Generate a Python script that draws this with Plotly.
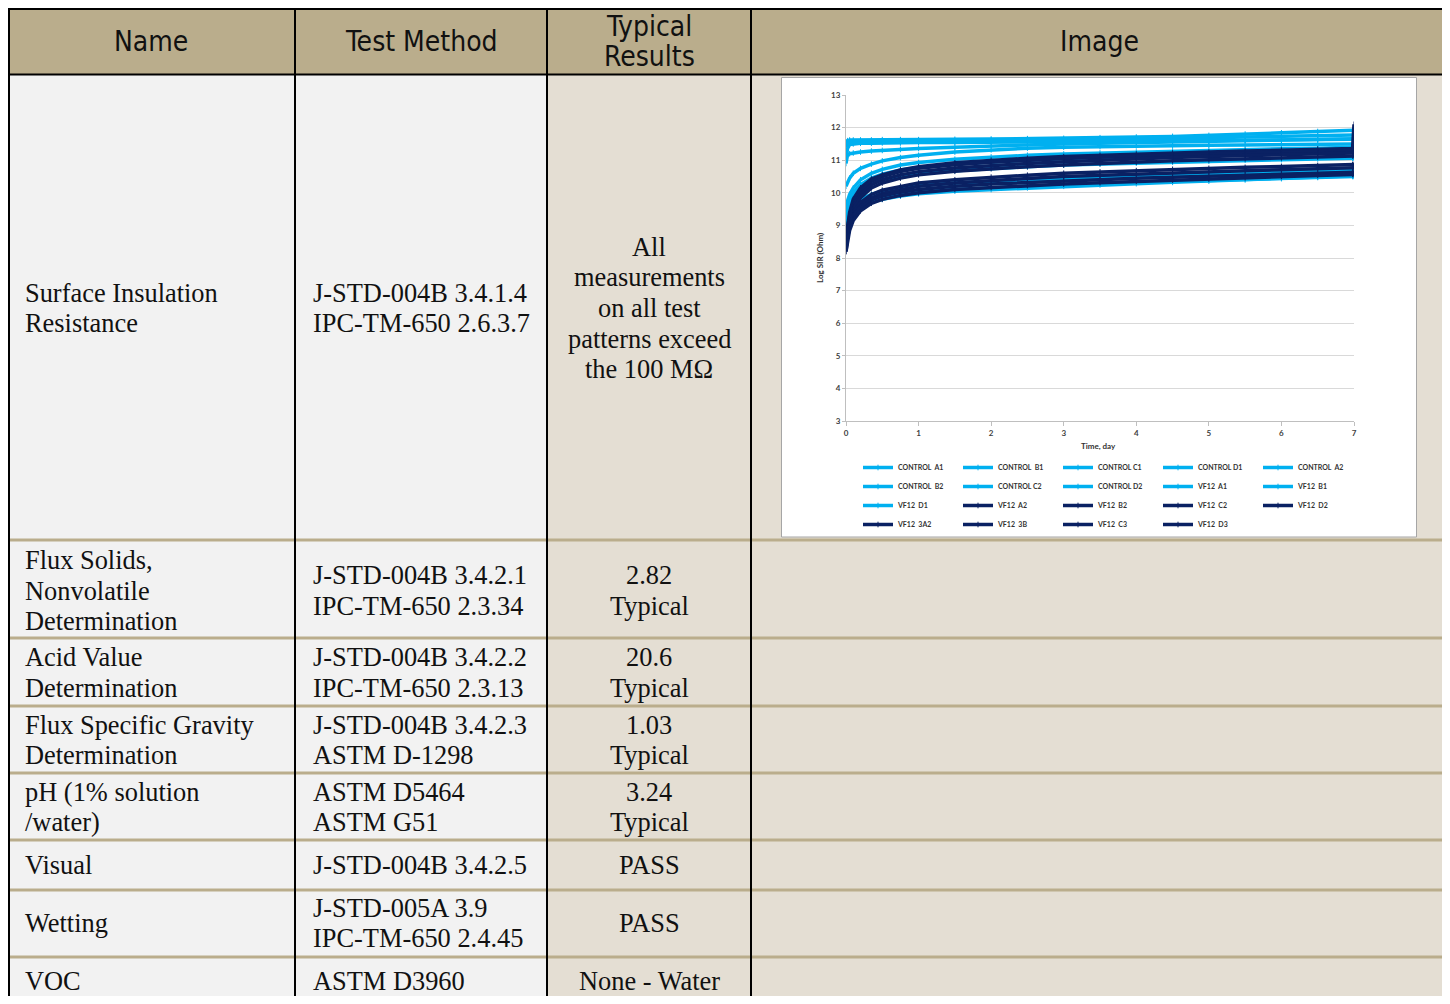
import plotly.graph_objects as go

# The page body has an 8px margin, so the figure is laid out in reference-screen
# pixels shifted by 8px.
OFF = 8
FIG_W, FIG_H = 1440, 988
PLOT_L, PLOT_R, PLOT_T, PLOT_B = 846, 1354, 95, 421   # plot area in reference pixels


def px(x):
    return (x - PLOT_L) / (PLOT_R - PLOT_L)


def py(y):
    return (PLOT_B - y) / (PLOT_B - PLOT_T)


# ---------------- chart data ----------------
time_day = [0, 0.02, 0.05, 0.1, 0.2, 0.35, 0.5, 0.75, 1, 1.5, 2, 2.5, 3, 3.5, 4, 4.5, 5, 5.5, 6, 6.5, 6.98, 7]

series_names = ["CONTROL  A1", "CONTROL  B1", "CONTROL C1", "CONTROL D1", "CONTROL  A2",
                "CONTROL  B2", "CONTROL C2", "CONTROL D2", "VF12  A1", "VF12  B1",
                "VF12  D1", "VF12  A2", "VF12  B2", "VF12  C2", "VF12  D2",
                "VF12  3A2", "VF12  3B", "VF12  C3", "VF12  D3"]

control_a1 = [11.5, 11.6, 11.62, 11.62, 11.62, 11.62, 11.63, 11.63, 11.63, 11.64, 11.65, 11.66, 11.67, 11.69, 11.71, 11.73, 11.76, 11.8, 11.84, 11.88, 11.92, 11.92]
control_b1 = [11.4, 11.5, 11.57, 11.57, 11.58, 11.58, 11.58, 11.59, 11.59, 11.6, 11.61, 11.62, 11.63, 11.64, 11.65, 11.67, 11.69, 11.71, 11.73, 11.75, 11.77, 11.77]
control_c1 = [11.0, 11.35, 11.48, 11.5, 11.52, 11.52, 11.53, 11.53, 11.54, 11.54, 11.55, 11.55, 11.56, 11.57, 11.58, 11.59, 11.6, 11.61, 11.62, 11.63, 11.64, 11.64]
control_d1 = [10.9, 11.15, 11.2, 11.22, 11.25, 11.28, 11.3, 11.33, 11.36, 11.4, 11.44, 11.47, 11.5, 11.52, 11.54, 11.56, 11.58, 11.6, 11.62, 11.64, 11.66, 11.66]
control_a2 = [10.2, 10.3, 10.45, 10.6, 10.75, 10.88, 10.98, 11.08, 11.15, 11.25, 11.32, 11.37, 11.4, 11.42, 11.44, 11.45, 11.46, 11.47, 11.48, 11.49, 11.5, 11.5]
control_b2 = [9.2, 9.3, 9.4, 9.5, 9.62, 9.72, 9.8, 9.9, 9.97, 10.05, 10.1, 10.15, 10.2, 10.24, 10.28, 10.32, 10.36, 10.4, 10.44, 10.48, 10.52, 10.52]
control_c2 = [9.6, 9.75, 9.95, 10.15, 10.4, 10.6, 10.72, 10.85, 10.93, 11.03, 11.1, 11.15, 11.19, 11.22, 11.25, 11.28, 11.3, 11.33, 11.35, 11.37, 11.4, 11.4]
control_d2 = [9.3, 9.5, 9.7, 9.9, 10.1, 10.3, 10.4, 10.5, 10.58, 10.68, 10.75, 10.8, 10.85, 10.88, 10.91, 10.94, 10.97, 11.0, 11.02, 11.04, 11.06, 11.06]
vf12_a1 = [9.0, 9.2, 9.4, 9.6, 9.8, 9.95, 10.05, 10.15, 10.22, 10.3, 10.36, 10.4, 10.44, 10.48, 10.52, 10.55, 10.58, 10.61, 10.64, 10.67, 10.7, 10.7]
vf12_b1 = [9.4, 9.6, 9.8, 10.0, 10.25, 10.45, 10.57, 10.7, 10.78, 10.88, 10.95, 11.0, 11.05, 11.08, 11.12, 11.15, 11.18, 11.21, 11.24, 11.27, 11.3, 11.3]
vf12_d1 = [9.0, 9.15, 9.3, 9.45, 9.6, 9.75, 9.85, 9.95, 10.02, 10.1, 10.16, 10.21, 10.25, 10.29, 10.32, 10.35, 10.38, 10.41, 10.44, 10.47, 10.5, 10.5]
vf12_a2 = [8.6, 9.0, 9.4, 9.8, 10.15, 10.42, 10.55, 10.7, 10.8, 10.92, 11.0, 11.06, 11.11, 11.15, 11.19, 11.22, 11.25, 11.28, 11.31, 11.34, 11.36, 12.1]
vf12_b2 = [8.4, 8.9, 9.3, 9.7, 10.05, 10.35, 10.5, 10.65, 10.75, 10.86, 10.94, 11.0, 11.05, 11.09, 11.13, 11.16, 11.19, 11.22, 11.25, 11.28, 11.3, 11.3]
vf12_c2 = [8.5, 8.85, 9.2, 9.6, 9.95, 10.25, 10.4, 10.55, 10.65, 10.76, 10.84, 10.9, 10.95, 11.0, 11.04, 11.08, 11.11, 11.14, 11.17, 11.2, 11.22, 11.22]
vf12_d2 = [8.3, 8.7, 9.1, 9.5, 9.85, 10.15, 10.3, 10.45, 10.55, 10.66, 10.74, 10.8, 10.85, 10.9, 10.94, 10.98, 11.01, 11.04, 11.07, 11.1, 11.13, 11.13]
vf12_3a2 = [8.4, 8.8, 9.1, 9.4, 9.7, 9.95, 10.08, 10.2, 10.3, 10.4, 10.48, 10.54, 10.6, 10.64, 10.68, 10.72, 10.75, 10.78, 10.81, 10.84, 10.87, 10.87]
vf12_3b = [8.2, 8.6, 8.95, 9.3, 9.6, 9.85, 9.98, 10.1, 10.2, 10.3, 10.38, 10.44, 10.5, 10.54, 10.58, 10.62, 10.65, 10.68, 10.71, 10.74, 10.77, 10.77]
vf12_c3 = [8.3, 8.7, 9.0, 9.3, 9.55, 9.78, 9.9, 10.02, 10.1, 10.2, 10.27, 10.32, 10.37, 10.41, 10.45, 10.48, 10.51, 10.54, 10.57, 10.6, 10.63, 10.63]
vf12_d3 = [8.2, 8.5, 8.85, 9.15, 9.45, 9.68, 9.8, 9.92, 10.0, 10.1, 10.16, 10.22, 10.27, 10.31, 10.35, 10.39, 10.42, 10.46, 10.5, 10.53, 10.56, 10.56]

series_values = [control_a1, control_b1, control_c1, control_d1, control_a2,
                 control_b2, control_c2, control_d2, vf12_a1, vf12_b1,
                 vf12_d1, vf12_a2, vf12_b2, vf12_c2, vf12_d2,
                 vf12_3a2, vf12_3b, vf12_c3, vf12_d3]

LIGHT = "#00B0F0"
DARK = "#0A2163"
series_colors = [LIGHT] * 11 + [DARK] * 8

x_ticks = [0, 1, 2, 3, 4, 5, 6, 7]
y_ticks = [3, 4, 5, 6, 7, 8, 9, 10, 11, 12, 13]

# ---------------- table data ----------------
header_labels = [["Name"], ["Test Method"], ["Typical", "Results"], ["Image"]]
row_names = [["Surface Insulation", "Resistance"],
             ["Flux Solids,", "Nonvolatile", "Determination"],
             ["Acid Value", "Determination"],
             ["Flux Specific Gravity", "Determination"],
             ["pH (1% solution", "/water)"],
             ["Visual"],
             ["Wetting"],
             ["VOC"]]
row_methods = [["J-STD-004B 3.4.1.4", "IPC-TM-650 2.6.3.7"],
               ["J-STD-004B 3.4.2.1", "IPC-TM-650 2.3.34"],
               ["J-STD-004B 3.4.2.2", "IPC-TM-650 2.3.13"],
               ["J-STD-004B 3.4.2.3", "ASTM D-1298"],
               ["ASTM D5464", "ASTM G51"],
               ["J-STD-004B 3.4.2.5"],
               ["J-STD-005A 3.9", "IPC-TM-650 2.4.45"],
               ["ASTM D3960"]]
row_results = [["All", "measurements", "on all test", "patterns exceed", "the 100 MΩ"],
               ["2.82", "Typical"],
               ["20.6", "Typical"],
               ["1.03", "Typical"],
               ["3.24", "Typical"],
               ["PASS"],
               ["PASS"],
               ["None - Water"]]

fig = go.Figure()

for name, vals, col in zip(series_names, series_values, series_colors):
    fig.add_trace(go.Scatter(
        x=time_day, y=vals, name=name, mode="lines+markers",
        line=dict(color=col, width=3.5),
        marker=dict(symbol="line-ns-open", size=4, color=col, line=dict(width=1, color=col)),
    ))

# ---------------- table geometry (reference pixels) ----------------
col_x = [9, 295, 547, 751, 1446]
row_lines = [540, 638, 706, 773, 840, 890, 957]
row_centers = [308, 590.5, 672.5, 740, 807, 865, 923, 981]
LINE_PITCH = 30.7

HEADER_FILL = "#BAAD8C"
LEFT_FILL = "#F2F2F2"
RIGHT_FILL = "#E4DED3"


def rect(x0, x1, y0, y1, fill, line=None):
    return dict(type="rect", xref="paper", yref="paper", x0=px(x0), x1=px(x1), y0=py(y1), y1=py(y0),
                fillcolor=fill, line=line or dict(width=0), layer="below")


def hline(y, x0, x1, color, w):
    return dict(type="line", xref="paper", yref="paper", x0=px(x0), x1=px(x1), y0=py(y), y1=py(y),
                line=dict(width=w, color=color), layer="below")


def vline(x, y0, y1, color, w):
    return dict(type="line", xref="paper", yref="paper", x0=px(x), x1=px(x), y0=py(y1), y1=py(y0),
                line=dict(width=w, color=color), layer="below")


shapes = [
    rect(6, 1447, 6, 74, HEADER_FILL),
    rect(6, 547, 74, 1010, LEFT_FILL),
    rect(547, 1447, 74, 1010, RIGHT_FILL),
    rect(781.5, 1416.5, 77.5, 537, "white", dict(width=1, color="#A6A6A6")),
]
for yy in row_lines:
    shapes.append(hline(yy, 6, 1447, HEADER_FILL, 3))
shapes.append(hline(9, 6, 1447, "black", 2))
shapes.append(hline(74.5, 6, 1447, "black", 2))
for xx in col_x:
    shapes.append(vline(xx, 8, 1010, "black", 2))

annotations = []


def add_lines(lines, x, yc, anchor, font):
    n = len(lines)
    for i, t in enumerate(lines):
        yy = yc + (i - (n - 1) / 2) * LINE_PITCH
        annotations.append(dict(text=t, x=px(x), y=py(yy), xref="paper", yref="paper",
                                xanchor=anchor, yanchor="middle", showarrow=False,
                                font=font))


HEAD_FONT = dict(family="DejaVu Sans Condensed, DejaVu Sans", size=28, color="#111111")
header_x = [151, 421, 649, 1099]
for lab, hx in zip(header_labels, header_x):
    add_lines(lab, hx, 41.5, "center", HEAD_FONT)

BODY_FONT = dict(family="Liberation Serif", size=26.4, color="#111111")
for nm, meth, res, cy in zip(row_names, row_methods, row_results, row_centers):
    add_lines(nm, 23, cy, "left", BODY_FONT)
    add_lines(meth, 311, cy, "left", BODY_FONT)
    add_lines(res, 649, cy, "center", BODY_FONT)

SMALL_FONT = dict(family="Lato", size=8, color="#333333", weight="bold")
annotations.append(dict(text="Time, day", x=px(1098), y=py(446), xref="paper", yref="paper",
                        xanchor="center", yanchor="middle", showarrow=False, font=SMALL_FONT))
annotations.append(dict(text="Log SIR (Ohm)", x=px(820), y=py(258), xref="paper", yref="paper",
                        xanchor="center", yanchor="middle", showarrow=False, textangle=-90,
                        font=SMALL_FONT))

TICK_FONT = dict(family="Lato", size=8, color="#404040", weight="bold")

fig.update_layout(
    width=FIG_W, height=FIG_H,
    margin=dict(l=PLOT_L - OFF, r=FIG_W - (PLOT_R - OFF), t=PLOT_T - OFF, b=FIG_H - (PLOT_B - OFF),
                autoexpand=False),
    paper_bgcolor="white",
    plot_bgcolor="white",
    shapes=shapes,
    annotations=annotations,
    xaxis=dict(range=[0, 7], tickvals=x_ticks,
               showgrid=False, zeroline=False, showline=True, linecolor="#BFBFBF", linewidth=1,
               ticks="outside", ticklen=4, tickcolor="#BFBFBF", tickfont=TICK_FONT),
    yaxis=dict(range=[3, 13], tickvals=y_ticks,
               showgrid=True, gridcolor="#D9D9D9", gridwidth=1, zeroline=False,
               showline=True, linecolor="#BFBFBF", linewidth=1,
               ticks="outside", ticklen=3, tickcolor="#BFBFBF", tickfont=TICK_FONT),
    showlegend=True,
    legend=dict(orientation="h", x=px(858), y=py(453), xanchor="left", yanchor="top",
                entrywidth=55, entrywidthmode="pixels", itemwidth=30,
                font=dict(family="Lato", size=7, color="#333333", weight="bold"),
                bgcolor="rgba(0,0,0,0)"),
)

fig.write_html("out.html")
